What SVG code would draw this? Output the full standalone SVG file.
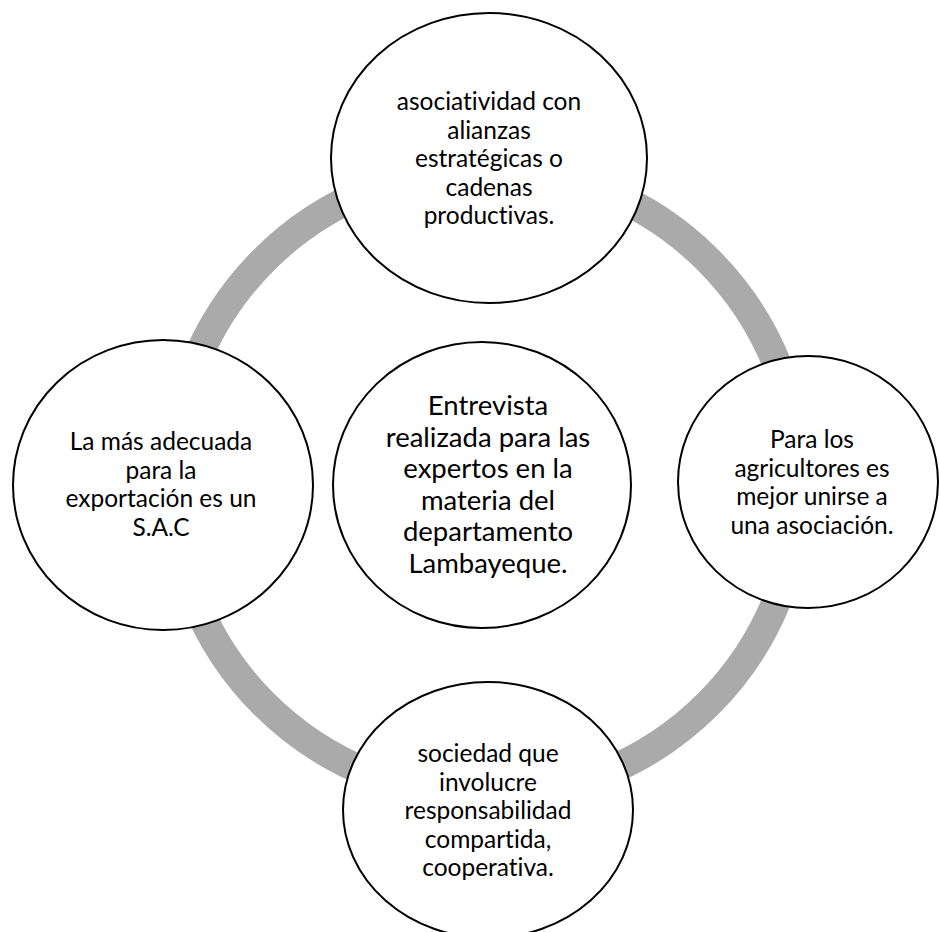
<svg xmlns="http://www.w3.org/2000/svg" width="939" height="932" viewBox="0 0 939 932">
  <style>
    .node { fill: #ffffff; stroke: #000000; stroke-width: 2; }
    .ring { fill: none; stroke: #aaaaaa; stroke-width: 29; }
    .lbl { font-family: Lato, "Liberation Sans", sans-serif; font-size: 24.5px; fill: #000000; text-anchor: middle; font-variant-ligatures: none; }
    .lbl-big { font-size: 27.5px; }
  </style>
  <rect x="0" y="0" width="939" height="932" fill="#ffffff"/>

  <!-- cycle ring linking the outer nodes -->
  <g id="connectors">
    <circle class="ring" cx="486" cy="482" r="314"/>
  </g>

  <g id="node-top">
    <ellipse class="node" cx="489" cy="158" rx="158" ry="145"/>
    <text class="lbl" x="489" y="110">asociatividad con</text>
    <text class="lbl" x="489" y="138.5">alianzas</text>
    <text class="lbl" x="489" y="167">estratégicas o</text>
    <text class="lbl" x="489" y="195.5">cadenas</text>
    <text class="lbl" x="489" y="224">productivas.</text>
  </g>

  <g id="node-right">
    <ellipse class="node" cx="808" cy="482" rx="130" ry="126"/>
    <text class="lbl" x="812" y="448">Para los</text>
    <text class="lbl" x="812" y="476.5">agricultores es</text>
    <text class="lbl" x="812" y="505">mejor unirse a</text>
    <text class="lbl" x="812" y="533.5">una asociación.</text>
  </g>

  <g id="node-bottom">
    <ellipse class="node" cx="488" cy="810" rx="145" ry="128"/>
    <text class="lbl" x="488" y="762">sociedad que</text>
    <text class="lbl" x="488" y="790.5">involucre</text>
    <text class="lbl" x="488" y="819">responsabilidad</text>
    <text class="lbl" x="488" y="847.5">compartida,</text>
    <text class="lbl" x="488" y="876">cooperativa.</text>
  </g>

  <g id="node-left">
    <ellipse class="node" cx="163" cy="485" rx="150" ry="145"/>
    <text class="lbl" x="161" y="450">La más adecuada</text>
    <text class="lbl" x="161" y="478.5">para la</text>
    <text class="lbl" x="161" y="507">exportación es un</text>
    <text class="lbl" x="161" y="535.5">S.A.C</text>
  </g>

  <g id="node-center">
    <ellipse class="node" cx="482" cy="485" rx="149" ry="143"/>
    <text class="lbl lbl-big" x="488" y="415">Entrevista</text>
    <text class="lbl lbl-big" x="488" y="446.5">realizada para las</text>
    <text class="lbl lbl-big" x="488" y="478">expertos en la</text>
    <text class="lbl lbl-big" x="488" y="509.5">materia del</text>
    <text class="lbl lbl-big" x="488" y="541">departamento</text>
    <text class="lbl lbl-big" x="488" y="572.5">Lambayeque.</text>
  </g>
</svg>
